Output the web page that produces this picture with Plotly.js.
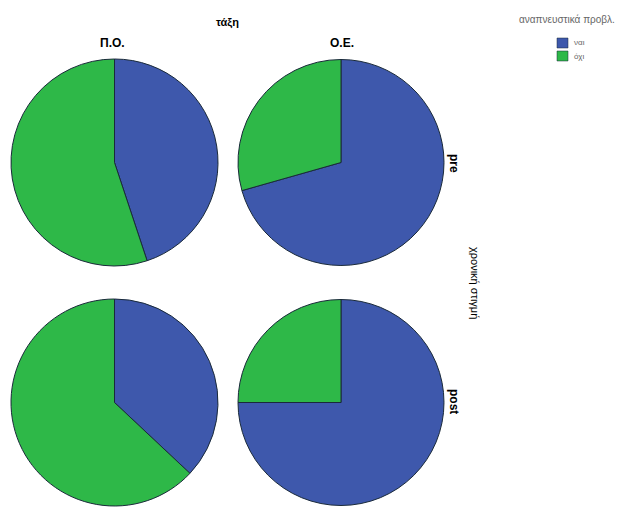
<!DOCTYPE html>
<html>
<head>
<meta charset="utf-8">
<script src="https://cdn.plot.ly/plotly-3.0.1.min.js"></script>
<style>html,body{margin:0;padding:0;background:#fff;}#chart{width:638px;height:507px;}</style>
</head>
<body>
<div id="chart"></div>
<script>
// Data
const categories = ["ναι", "όχι"];
const classes = ["Π.Ο.", "Ο.Ε."];
const times = ["pre", "post"];
const values_PO_pre = [44.9, 55.1];
const values_OE_pre = [70.6, 29.4];
const values_PO_post = [37.0, 63.0];
const values_OE_post = [75.0, 25.0];
const colors = ["#3E58AC", "#2EB848"];

const W = 638, H = 507;
function dom(x0, x1, y0, y1) {
  return {x: [x0 / W, x1 / W], y: [1 - y1 / H, 1 - y0 / H]};
}
const panels = [
  {vals: values_PO_pre, d: dom(11, 218, 59, 266)},
  {vals: values_OE_pre, d: dom(238, 444, 59, 266)},
  {vals: values_PO_post, d: dom(11, 218, 299, 506)},
  {vals: values_OE_post, d: dom(238, 444, 299, 506)}
];
const traces = panels.map((p, i) => ({
  type: "pie",
  labels: categories,
  values: p.vals,
  sort: false,
  direction: "clockwise",
  rotation: 0,
  textinfo: "none",
  hoverinfo: "label+percent",
  showlegend: false,
  marker: {colors: colors, line: {color: "#1a2a3a", width: 1}},
  domain: p.d
}));

const fam = "Liberation Sans, Arial, sans-serif";
function ann(text, x, y, size, color, extra) {
  return Object.assign({text: text, x: x / W, y: 1 - y / H, xref: "paper", yref: "paper",
    xanchor: "center", yanchor: "middle", showarrow: false,
    font: {family: fam, size: size, color: color}}, extra || {});
}
const annotations = [
  ann("<b>τάξη</b>", 228, 22, 11, "#000"),
  ann("<b>" + classes[0] + "</b>", 112, 43, 12, "#000"),
  ann("<b>" + classes[1] + "</b>", 342, 43, 12, "#000"),
  ann("<b>" + times[0] + "</b>", 454, 163, 12, "#000", {textangle: 90}),
  ann("<b>" + times[1] + "</b>", 454, 401, 12, "#000", {textangle: 90}),
  ann("χρονική στιγμή", 475, 283, 11, "#000", {textangle: 90}),
  ann("αναπνευστικά προβλ.", 567, 20, 10, "#666"),
  ann(categories[0], 572, 43, 8, "#666", {xanchor: "left"}),
  ann(categories[1], 572, 56, 8, "#666", {xanchor: "left"})
];
const shapes = categories.map((c, i) => ({
  type: "rect", xref: "paper", yref: "paper",
  x0: 557 / W, x1: 568 / W, y0: 1 - (48 + i * 13) / H, y1: 1 - (38 + i * 13) / H,
  fillcolor: colors[i], line: {color: "#1a2a3a", width: 0.5}
}));

const layout = {
  width: W, height: H,
  margin: {l: 0, r: 0, t: 0, b: 0},
  paper_bgcolor: "#fff",
  showlegend: false,
  annotations: annotations,
  shapes: shapes
};
Plotly.newPlot("chart", traces, layout, {displayModeBar: false, staticPlot: true});
</script>
</body>
</html>
